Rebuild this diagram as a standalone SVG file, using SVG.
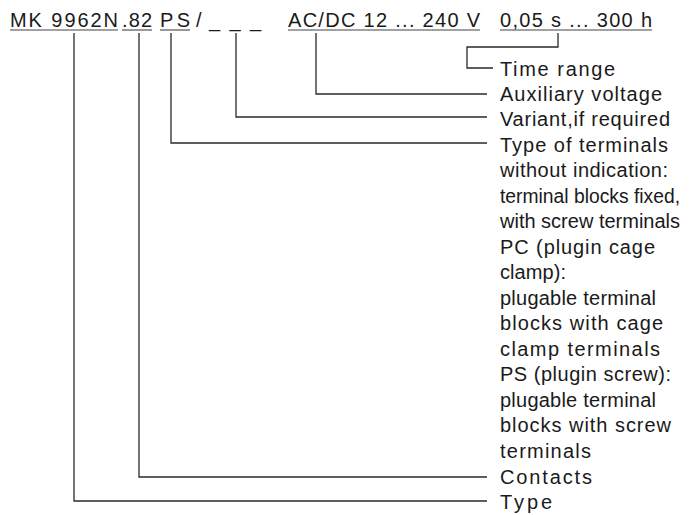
<svg xmlns="http://www.w3.org/2000/svg" width="699" height="515" viewBox="0 0 699 515">
<style>
text{font-family:"Liberation Sans",Arial,sans-serif;font-size:20px;fill:#1a1a1a}
.ul{stroke:#444;stroke-width:1.1}
.c{fill:none;stroke:#2a2a2a;stroke-width:1.3}
</style>
<rect width="699" height="515" fill="#fff"/>
<g id="code">
<text x="10" y="27" textLength="108" lengthAdjust="spacing">MK 9962N</text>
<text x="122" y="27" textLength="30" lengthAdjust="spacing">.82</text>
<text x="160" y="27" textLength="30" lengthAdjust="spacing">PS</text>
<text x="196" y="27">/</text>
<text x="209" y="27" textLength="52" lengthAdjust="spacing">_ _ _</text>
<text x="288" y="27" textLength="192" lengthAdjust="spacing">AC/DC 12 ... 240 V</text>
<text x="500" y="27" textLength="152" lengthAdjust="spacing">0,05 s ... 300 h</text>
<line class="ul" x1="10" y1="30" x2="118" y2="30"/>
<line class="ul" x1="122" y1="30" x2="152" y2="30"/>
<line class="ul" x1="160" y1="30" x2="190" y2="30"/>
<line class="ul" x1="288" y1="30" x2="480" y2="30"/>
<line class="ul" x1="500" y1="30" x2="652" y2="30"/>
</g>
<g id="connectors">
<path class="c" d="M74,33 V501 H487"/>
<path class="c" d="M139,33 V477 H487"/>
<path class="c" d="M171,33 V143 H487"/>
<path class="c" d="M236,33 V117 H487"/>
<path class="c" d="M316,33 V94 H487"/>
<path class="c" d="M558,33 V47 H467 V68 H493"/>
</g>
<g id="time-range"><text x="500" y="75.5" textLength="115" lengthAdjust="spacing">Time range</text></g>
<g id="aux-voltage"><text x="500" y="101" textLength="162" lengthAdjust="spacing">Auxiliary voltage</text></g>
<g id="variant"><text x="500" y="126" textLength="170" lengthAdjust="spacing">Variant,if required</text></g>
<g id="terminal-type">
<text x="500" y="151.5" textLength="168" lengthAdjust="spacing">Type of terminals</text>
<text x="500" y="177" textLength="168" lengthAdjust="spacing">without indication:</text>
<text x="500" y="202.5" textLength="180" lengthAdjust="spacingAndGlyphs">terminal blocks fixed,</text>
<text x="500" y="228" textLength="180" lengthAdjust="spacing">with screw terminals</text>
<text x="500" y="253.5" textLength="155" lengthAdjust="spacing">PC (plugin cage</text>
<text x="500" y="279" textLength="66" lengthAdjust="spacing">clamp):</text>
<text x="500" y="304.5" textLength="156" lengthAdjust="spacing">plugable terminal</text>
<text x="500" y="330" textLength="163" lengthAdjust="spacing">blocks with cage</text>
<text x="500" y="355.5" textLength="160" lengthAdjust="spacing">clamp terminals</text>
<text x="500" y="381" textLength="171" lengthAdjust="spacing">PS (plugin screw):</text>
<text x="500" y="406.5" textLength="156" lengthAdjust="spacing">plugable terminal</text>
<text x="500" y="432" textLength="171" lengthAdjust="spacing">blocks with screw</text>
<text x="500" y="457.5" textLength="91" lengthAdjust="spacing">terminals</text>
</g>
<g id="contacts"><text x="500" y="483.5" textLength="92" lengthAdjust="spacing">Contacts</text></g>
<g id="type"><text x="500" y="509" textLength="52" lengthAdjust="spacing">Type</text></g>
</svg>
